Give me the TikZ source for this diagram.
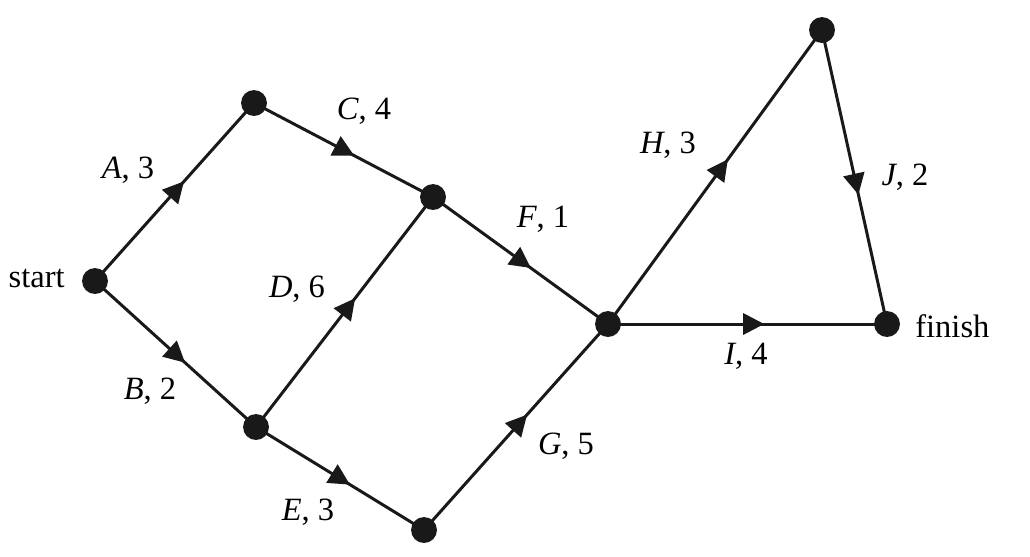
\documentclass[tikz,border=0pt]{standalone}
\usepackage{fontspec}
\setmainfont{Liberation Serif}
\usetikzlibrary{arrows.meta,decorations.markings}
\begin{document}
\begin{tikzpicture}[x=0.02cm,y=-0.02cm,
  dot/.style={circle,fill=black!90,inner sep=0pt,minimum size=26*0.567pt},
  edge/.style={line width=1.7pt,black!90,postaction={decorate},
    decoration={markings,mark=at position 0.56 with {\arrow{Triangle[length=12pt,width=12pt]}}}},
  lbl/.style={font=\fontsize{18.5}{22}\selectfont,inner sep=0pt}]
\useasboundingbox (0,0) rectangle (1030,556);
\coordinate (s) at (95,281);
\coordinate (t1) at (254,103);
\coordinate (m) at (433,197);
\coordinate (b1) at (256,427);
\coordinate (b2) at (424,530);
\coordinate (c) at (608,324);
\coordinate (tr) at (822,30);
\coordinate (f) at (887,324);
\draw[edge] (s) -- (t1);
\draw[edge] (s) -- (b1);
\draw[edge] (t1) -- (m);
\draw[edge] (b1) -- (m);
\draw[edge] (b1) -- (b2);
\draw[edge] (m) -- (c);
\draw[edge] (b2) -- (c);
\draw[edge] (c) -- (tr);
\draw[edge] (c) -- (f);
\draw[edge] (tr) -- (f);
\foreach \p in {s,t1,m,b1,b2,c,tr,f} \node[dot] (n\p) at (\p) {};
\node[lbl,anchor=east] (ls) at (65,278) {start};
\node[lbl,anchor=west] (lf) at (915,326) {finish};
\node[lbl] (la) at (128,170) {\textit{A}, 3};
\node[lbl] (lc) at (364,111) {\textit{C}, 4};
\node[lbl] (lb) at (150,391) {\textit{B}, 2};
\node[lbl] (ld) at (297,289) {\textit{D}, 6};
\node[lbl] (lF) at (543,219) {\textit{F}, 1};
\node[lbl] (le) at (308,512) {\textit{E}, 3};
\node[lbl] (lg) at (566,446) {\textit{G}, 5};
\node[lbl] (lh) at (668,145) {\textit{H}, 3};
\node[lbl] (lj) at (905,177) {\textit{J}, 2};
\node[lbl] (li) at (746,356) {\textit{I}, 4};
\end{tikzpicture}
\end{document}
